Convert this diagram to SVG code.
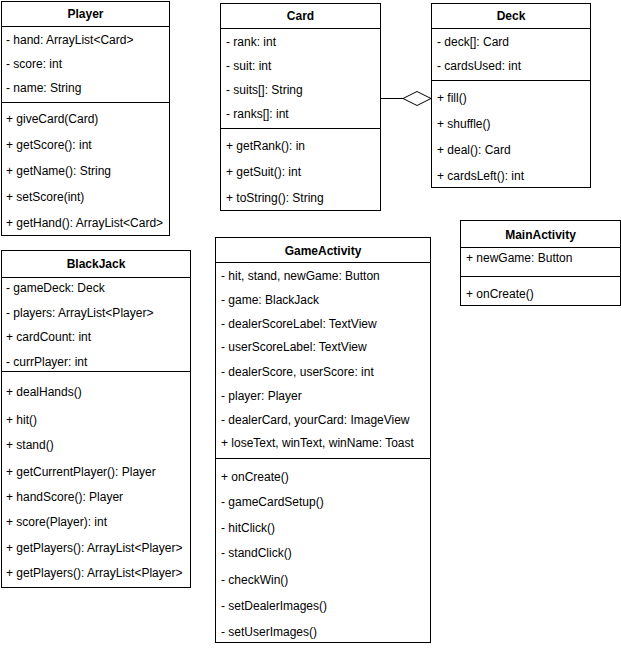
<svg xmlns="http://www.w3.org/2000/svg" width="621" height="648" viewBox="0 0 621 648">
<style>
rect.box{fill:#fff;stroke:#000;stroke-width:1}
line.sep{stroke:#000;stroke-width:1}
text{font-family:"Liberation Sans",Arial,Helvetica,sans-serif;font-size:12px;fill:#000}
text.title{font-weight:bold;text-anchor:middle}
</style>
<rect x="0" y="0" width="621" height="648" fill="#fff"/>
<g id="connectors">
<line x1="381" y1="98.5" x2="403" y2="98.5" stroke="#000" stroke-width="1"/>
<polygon points="403,98.5 417,91.5 431,98.5 417,105.5" fill="#fff" stroke="#000" stroke-width="1"/>
</g>
<g id="Player">
<rect class="box" x="1.5" y="1.5" width="168" height="234"/>
<line class="sep" x1="1.5" y1="26.5" x2="169.5" y2="26.5"/>
<line class="sep" x1="1.5" y1="102.5" x2="169.5" y2="102.5"/>
<text class="title" x="85.5" y="18">Player</text>
<text x="6" y="44">- hand: ArrayList&lt;Card&gt;</text>
<text x="6" y="68">- score: int</text>
<text x="6" y="92">- name: String</text>
<text x="6" y="123">+ giveCard(Card)</text>
<text x="6" y="149">+ getScore(): int</text>
<text x="6" y="175">+ getName(): String</text>
<text x="6" y="201">+ setScore(int)</text>
<text x="6" y="227">+ getHand(): ArrayList&lt;Card&gt;</text>
</g>
<g id="Card">
<rect class="box" x="220.5" y="3.5" width="160" height="207"/>
<line class="sep" x1="220.5" y1="28.5" x2="380.5" y2="28.5"/>
<line class="sep" x1="220.5" y1="128.5" x2="380.5" y2="128.5"/>
<text class="title" x="300.5" y="20">Card</text>
<text x="226" y="46">- rank: int</text>
<text x="226" y="70">- suit: int</text>
<text x="226" y="94">- suits[]: String</text>
<text x="226" y="118">- ranks[]: int</text>
<text x="226" y="150">+ getRank(): in</text>
<text x="226" y="176">+ getSuit(): int</text>
<text x="226" y="202">+ toString(): String</text>
</g>
<g id="Deck">
<rect class="box" x="431.5" y="3.5" width="159" height="184"/>
<line class="sep" x1="431.5" y1="28.5" x2="590.5" y2="28.5"/>
<line class="sep" x1="431.5" y1="80.5" x2="590.5" y2="80.5"/>
<text class="title" x="511" y="20">Deck</text>
<text x="437" y="46">- deck[]: Card</text>
<text x="437" y="70">- cardsUsed: int</text>
<text x="437" y="102">+ fill()</text>
<text x="437" y="128">+ shuffle()</text>
<text x="437" y="154">+ deal(): Card</text>
<text x="437" y="180">+ cardsLeft(): int</text>
</g>
<g id="BlackJack">
<rect class="box" x="1.5" y="250.5" width="189" height="337"/>
<line class="sep" x1="1.5" y1="277.5" x2="190.5" y2="277.5"/>
<line class="sep" x1="1.5" y1="371.5" x2="190.5" y2="371.5"/>
<text class="title" x="96" y="268">BlackJack</text>
<text x="6" y="292">- gameDeck: Deck</text>
<text x="6" y="317">- players: ArrayList&lt;Player&gt;</text>
<text x="6" y="341">+ cardCount: int</text>
<text x="6" y="366">- currPlayer: int</text>
<text x="6" y="396">+ dealHands()</text>
<text x="6" y="424">+ hit()</text>
<text x="6" y="449">+ stand()</text>
<text x="6" y="476">+ getCurrentPlayer(): Player</text>
<text x="6" y="501">+ handScore(): Player</text>
<text x="6" y="526">+ score(Player): int</text>
<text x="6" y="552">+ getPlayers(): ArrayList&lt;Player&gt;</text>
<text x="6" y="577">+ getPlayers(): ArrayList&lt;Player&gt;</text>
</g>
<g id="GameActivity">
<rect class="box" x="215.5" y="237.5" width="215" height="405"/>
<line class="sep" x1="215.5" y1="262.5" x2="430.5" y2="262.5"/>
<line class="sep" x1="215.5" y1="458.5" x2="430.5" y2="458.5"/>
<text class="title" x="323" y="255">GameActivity</text>
<text x="221" y="280">- hit, stand, newGame: Button</text>
<text x="221" y="304">- game: BlackJack</text>
<text x="221" y="328">- dealerScoreLabel: TextView</text>
<text x="221" y="351">- userScoreLabel: TextView</text>
<text x="221" y="376">- dealerScore, userScore: int</text>
<text x="221" y="400">- player: Player</text>
<text x="221" y="424">- dealerCard, yourCard: ImageView</text>
<text x="221" y="447">+ loseText, winText, winName: Toast</text>
<text x="221" y="481">+ onCreate()</text>
<text x="221" y="506">- gameCardSetup()</text>
<text x="221" y="532">- hitClick()</text>
<text x="221" y="557">- standClick()</text>
<text x="221" y="584">- checkWin()</text>
<text x="221" y="610">- setDealerImages()</text>
<text x="221" y="636">- setUserImages()</text>
</g>
<g id="MainActivity">
<rect class="box" x="460.5" y="220.5" width="160" height="85"/>
<line class="sep" x1="460.5" y1="247.5" x2="620.5" y2="247.5"/>
<line class="sep" x1="460.5" y1="276.5" x2="620.5" y2="276.5"/>
<text class="title" x="540.5" y="239">MainActivity</text>
<text x="466" y="262">+ newGame: Button</text>
<text x="466" y="298">+ onCreate()</text>
</g>
</svg>
